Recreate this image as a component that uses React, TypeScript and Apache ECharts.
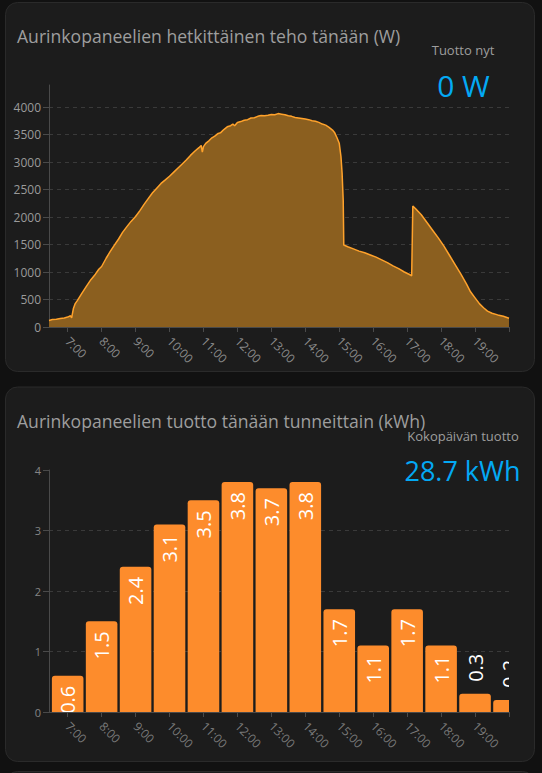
import React, { useEffect, useRef } from "react";
import * as echarts from "echarts";

// ---------- data ----------
const powerTimes = [
  "6:27", "6:33", "6:40", "6:47", "6:54", "7:00", "7:05", "7:07", "7:10", "7:13",
  "7:17", "7:25", "7:33", "7:41", "7:49", "7:55", "8:00", "8:08", "8:15", "8:22",
  "8:30", "8:37", "8:45", "8:52", "9:00", "9:08", "9:15", "9:22", "9:30", "9:37",
  "9:45", "9:52", "10:00", "10:08", "10:15", "10:22", "10:30", "10:37", "10:45", "10:52",
  "10:56", "10:58", "11:00", "11:04", "11:10", "11:15", "11:20", "11:26", "11:30", "11:36",
  "11:42", "11:48", "11:52", "11:55", "12:00", "12:06", "12:12", "12:18", "12:24", "12:30",
  "12:36", "12:42", "12:48", "12:54", "13:00", "13:06", "13:12", "13:18", "13:24", "13:30",
  "13:36", "13:42", "13:48", "13:54", "14:00", "14:06", "14:12", "14:18", "14:24", "14:30",
  "14:36", "14:42", "14:48", "14:52", "14:56", "15:00", "15:03", "15:05", "15:07", "15:08",
  "15:15", "15:25", "15:35", "15:45", "15:55", "16:05", "16:15", "16:25", "16:35", "16:45",
  "16:55", "17:05", "17:08", "17:10", "17:15", "17:25", "17:35", "17:45", "17:55", "18:05",
  "18:15", "18:25", "18:35", "18:45", "18:52", "19:00", "19:08", "19:15", "19:22", "19:30",
  "19:40", "19:50", "20:00",
];
const powerValues = [
  120, 135, 142, 155, 165, 180, 205, 165, 330, 420,
  480, 610, 740, 860, 960, 1050, 1100, 1250, 1370, 1480,
  1600, 1720, 1830, 1920, 2010, 2120, 2230, 2330, 2440, 2520,
  2610, 2670, 2740, 2820, 2890, 2960, 3040, 3120, 3200, 3260,
  3300, 3180, 3280, 3340, 3390, 3440, 3470, 3520, 3530, 3590,
  3640, 3660, 3690, 3660, 3720, 3735, 3760, 3770, 3800, 3805,
  3830, 3845, 3840, 3850, 3865, 3860, 3880, 3870, 3860, 3840,
  3830, 3810, 3800, 3790, 3780, 3770, 3750, 3740, 3720, 3690,
  3670, 3630, 3580, 3530, 3440, 3340, 3100, 2800, 2300, 1490,
  1460, 1420, 1380, 1350, 1310, 1270, 1220, 1170, 1110, 1060,
  1000, 950, 930, 2200, 2150, 2040, 1900, 1760, 1620, 1470,
  1300, 1130, 960, 780, 640, 530, 420, 350, 290, 250,
  220, 195, 160,
];

const barHours = [
  "7:00", "8:00", "9:00", "10:00", "11:00", "12:00", "13:00",
  "14:00", "15:00", "16:00", "17:00", "18:00", "19:00", "20:00",
];
const barValues = [0.6, 1.5, 2.4, 3.1, 3.5, 3.8, 3.7, 3.8, 1.7, 1.1, 1.7, 1.1, 0.3, 0.2];

const hourLabels = [
  "7:00", "8:00", "9:00", "10:00", "11:00", "12:00", "13:00",
  "14:00", "15:00", "16:00", "17:00", "18:00", "19:00",
];
const hourTickMarks = [
  "7:00", "8:00", "9:00", "10:00", "11:00", "12:00", "13:00",
  "14:00", "15:00", "16:00", "17:00", "18:00", "19:00", "20:00",
];
const powerTicks = [0, 500, 1000, 1500, 2000, 2500, 3000, 3500, 4000];
const energyTicks = [0, 1, 2, 3, 4];

const card1Title = "Aurinkopaneelien hetkittäinen teho tänään (W)";
const card1SubLabel = "Tuotto nyt";
const card1Value = "0 W";
const card2Title = "Aurinkopaneelien tuotto tänään tunneittain (kWh)";
const card2SubLabel = "Kokopäivän tuotto";
const card2Value = "28.7 kWh";

// ---------- helpers ----------
const toHours = (s: string) => {
  const [h, m] = s.split(":").map(Number);
  return h + m / 60;
};
const hourToLabel = (v: number) => `${Math.round(v)}:00`;

const FONT = "'Open Sans', 'Noto Sans', sans-serif";
const X_MIN = toHours("6:27");
const X_MAX = toHours("20:00");
const GRID_LINE = "#3a3a3a";
const AXIS_LINE = "#4a4a4a";
const BAR_COLOR = "#fd8c2c";

export default function App() {
  const ref = useRef<HTMLDivElement>(null);

  useEffect(() => {
    if (!ref.current) return;
    const chart = echarts.init(ref.current, null, { renderer: "svg" });

    const areaData = powerTimes.map((t, i) => [toHours(t), powerValues[i]]);
    const barData = barHours.map((t, i) => [toHours(t), barValues[i]]);

    const xAxisBase = (gridIndex: number, labelColor: string) => ({
      type: "value",
      gridIndex,
      min: X_MIN,
      max: X_MAX,
      axisLine: { show: true, lineStyle: { color: AXIS_LINE, width: 1 } },
      axisTick: {
        show: true,
        customValues: hourTickMarks.map(toHours),
        length: 5,
        lineStyle: { color: AXIS_LINE },
      },
      axisLabel: {
        customValues: hourLabels.map(toHours),
        formatter: hourToLabel,
        rotate: -45,
        margin: 12,
        fontSize: 12,
        color: labelColor,
        fontFamily: FONT,
      },
      splitLine: { show: false },
    });

    const option: any = {
      animation: false,
      backgroundColor: "#111111",
      textStyle: { fontFamily: FONT },
      graphic: [
        {
          type: "rect",
          z: -10,
          silent: true,
          shape: { x: 5.5, y: 2.5, width: 529, height: 369, r: 12 },
          style: { fill: "#1c1c1c", stroke: "#2a2a2a", lineWidth: 1 },
        },
        {
          type: "rect",
          z: -10,
          silent: true,
          shape: { x: 5.5, y: 387, width: 529, height: 374.5, r: 12 },
          style: { fill: "#1c1c1c", stroke: "#2a2a2a", lineWidth: 1 },
        },
        {
          type: "rect",
          z: -10,
          silent: true,
          shape: { x: 5.5, y: 771.5, width: 529, height: 40, r: 12 },
          style: { fill: "#1c1c1c", stroke: "#2a2a2a", lineWidth: 1 },
        },
        {
          type: "text",
          x: 17,
          y: 35.5,
          style: {
            text: card1Title, fill: "#9e9e9e", fontSize: 17.6, fontFamily: FONT,
            align: "left", verticalAlign: "middle",
          },
        },
        {
          type: "text",
          x: 463,
          y: 49.7,
          style: {
            text: card1SubLabel, fill: "#9e9e9e", fontSize: 13, fontFamily: FONT,
            align: "center", verticalAlign: "middle",
          },
        },
        {
          type: "text",
          x: 463.5,
          y: 85.8,
          style: {
            text: card1Value, fill: "#03a9f4", fontSize: 30, fontFamily: FONT,
            align: "center", verticalAlign: "middle",
          },
        },
        {
          type: "text",
          x: 17,
          y: 420.5,
          style: {
            text: card2Title, fill: "#9e9e9e", fontSize: 17.6, fontFamily: FONT,
            align: "left", verticalAlign: "middle",
          },
        },
        {
          type: "text",
          x: 463,
          y: 436.3,
          style: {
            text: card2SubLabel, fill: "#9e9e9e", fontSize: 13, fontFamily: FONT,
            align: "center", verticalAlign: "middle",
          },
        },
        {
          type: "text",
          x: 462.5,
          y: 470.3,
          style: {
            text: card2Value, fill: "#03a9f4", fontSize: 27, fontFamily: FONT,
            align: "center", verticalAlign: "middle",
          },
        },
      ],
      grid: [
        { left: 49, top: 85, width: 460, height: 242 },
        { left: 49, top: 470, width: 460, height: 242 },
      ],
      xAxis: [xAxisBase(0, "#8c8c8c"), xAxisBase(1, "#7a7a7a")],
      yAxis: [
        {
          type: "value",
          gridIndex: 0,
          min: 0,
          max: 4400,
          interval: 500,
          axisLine: { show: true, lineStyle: { color: AXIS_LINE } },
          axisTick: {
            show: true,
            length: 6,
            customValues: powerTicks,
            lineStyle: { color: AXIS_LINE },
          },
          axisLabel: {
            customValues: powerTicks,
            formatter: (v: number) => String(v),
            margin: 8,
            fontSize: 12,
            color: "#9a9a9a",
            fontFamily: FONT,
          },
          splitLine: {
            show: true,
            showMinLine: false,
            showMaxLine: true,
            lineStyle: { color: GRID_LINE, type: [4, 4] },
          },
        },
        {
          type: "value",
          gridIndex: 1,
          min: 0,
          max: 4,
          interval: 1,
          axisLine: { show: true, lineStyle: { color: AXIS_LINE } },
          axisTick: {
            show: true,
            length: 6,
            customValues: energyTicks,
            lineStyle: { color: AXIS_LINE },
          },
          axisLabel: {
            customValues: energyTicks,
            formatter: (v: number) => String(v),
            margin: 8,
            fontSize: 11,
            color: "#858585",
            fontFamily: FONT,
          },
          splitLine: {
            show: true,
            showMinLine: false,
            showMaxLine: false,
            lineStyle: { color: GRID_LINE, type: [4, 4] },
          },
        },
      ],
      series: [
        {
          type: "line",
          xAxisIndex: 0,
          yAxisIndex: 0,
          data: areaData,
          showSymbol: false,
          symbol: "none",
          smooth: false,
          lineStyle: { color: "#ffa22b", width: 1.5 },
          areaStyle: { color: "#8b5f1f", opacity: 1 },
        },
        {
          type: "custom",
          xAxisIndex: 1,
          yAxisIndex: 1,
          clip: true,
          data: barData,
          encode: { x: 0, y: 1 },
          renderItem: (params: any, api: any) => {
            const x = api.value(0);
            const v = api.value(1);
            const base = api.coord([x, 0]);
            const top = api.coord([x, v]);
            const w = api.size([1, 0])[0] * 0.93;
            const h = base[1] - top[1];
            const inside = h > 25;
            return {
              type: "group",
              children: [
                {
                  type: "rect",
                  shape: { x: top[0] - w / 2, y: top[1], width: w, height: h, r: [3, 3, 0, 0] },
                  style: { fill: BAR_COLOR },
                },
                {
                  type: "text",
                  x: top[0],
                  y: inside ? top[1] + 10 : top[1] - 12,
                  rotation: Math.PI / 2,
                  style: {
                    text: v.toFixed(1),
                    fill: "#ffffff",
                    fontSize: 20,
                    fontFamily: FONT,
                    align: inside ? "right" : "left",
                    verticalAlign: "middle",
                    shadowColor: "rgba(0,0,0,0.75)",
                    shadowBlur: 3,
                  },
                },
              ],
            };
          },
        },
      ],
    };

    chart.setOption(option);
    return () => chart.dispose();
  }, []);

  return (
    <div
      ref={ref}
      style={{ position: "fixed", left: 0, top: 0, width: 542, height: 773 }}
    />
  );
}
